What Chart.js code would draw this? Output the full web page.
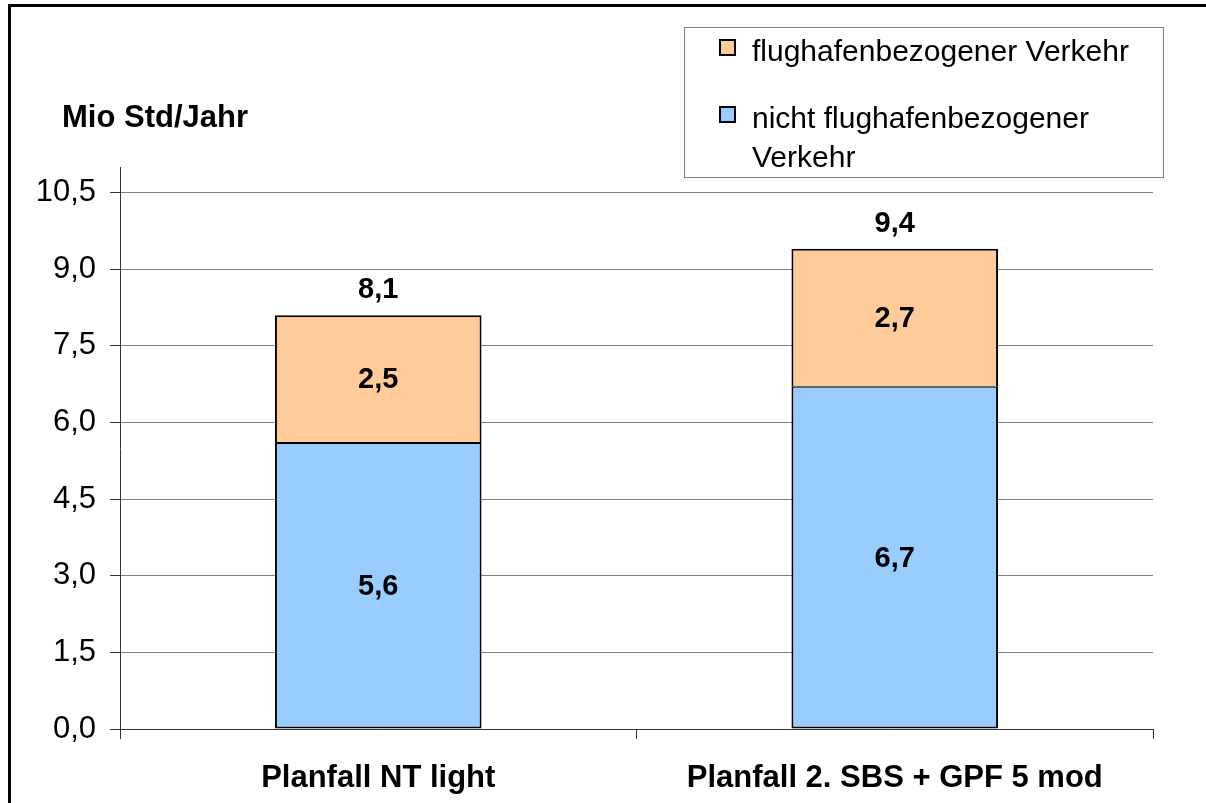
<!DOCTYPE html>
<html><head><meta charset="utf-8">
<script src="https://cdn.jsdelivr.net/npm/chart.js@4/dist/chart.umd.min.js"></script>
<style>
html,body{margin:0;padding:0;background:#fff;overflow:hidden;}
#wrap{position:relative;width:1206px;height:803px;}
#frame{position:absolute;left:8px;top:4px;width:1400px;height:1000px;border:3px solid #000;pointer-events:none;}
canvas{position:absolute;left:0;top:0;}
</style></head><body>
<div id="wrap"><canvas id="c" width="1206" height="803"></canvas><div id="frame"></div></div>
<script>
const categories = ['Planfall NT light', 'Planfall 2. SBS + GPF 5 mod'];
const nichtFlughafen = [5.6, 6.7];
const flughafen = [2.5, 2.7];
const totals = [8.1, 9.4];
const yTicks = [0, 1.5, 3.0, 4.5, 6.0, 7.5, 9.0, 10.5];
const yAxisMax = 11;
const yAxisTitle = 'Mio Std/Jahr';
const seriesNames = ['nicht flughafenbezogener Verkehr', 'flughafenbezogener Verkehr'];

const FONT = "'Liberation Sans', Arial, Helvetica, sans-serif";
const FS_LABEL = 29;
const FS_TICK = 31;
const FS_CAT = 31;
const FS_TITLE = 31;
const FS_LEG = 30;
const fmt = v => v.toFixed(1).replace('.', ',');

const overlay = {
  id: 'overlay',
  afterDatasetsDraw(chart) {
    const ctx = chart.ctx;
    ctx.save();
    ctx.fillStyle = '#000';
    ctx.textAlign = 'center';
    ctx.textBaseline = 'middle';
    ctx.font = `bold ${FS_LABEL}px ${FONT}`;
    chart.data.datasets.forEach((ds, di) => {
      const meta = chart.getDatasetMeta(di);
      meta.data.forEach((bar, i) => {
        const yMid = (bar.y + bar.base) / 2;
        ctx.fillText(fmt(ds.data[i]), bar.x, yMid + 1);
      });
    });
    const topMeta = chart.getDatasetMeta(chart.data.datasets.length - 1);
    ctx.textBaseline = 'alphabetic';
    topMeta.data.forEach((bar, i) => {
      ctx.fillText(fmt(totals[i]), bar.x, bar.y - 17);
    });
    ctx.restore();
  },
  afterDraw(chart) {
    const ctx = chart.ctx;
    ctx.save();
    ctx.fillStyle = '#000';
    ctx.font = `bold ${FS_TITLE}px ${FONT}`;
    ctx.textAlign = 'left';
    ctx.textBaseline = 'alphabetic';
    ctx.fillText(yAxisTitle, 62, 127);
    ctx.fillStyle = '#fff';
    ctx.fillRect(684, 27, 479, 150);
    ctx.strokeStyle = '#808080';
    ctx.lineWidth = 1;
    ctx.strokeRect(684.5, 27.5, 479, 150);
    ctx.font = `${FS_LEG}px ${FONT}`;
    const items = chart.data.datasets.slice().reverse();
    const swY = [40, 107];
    const baseY = [61, 128];
    const lineH = 39;
    items.forEach((ds, k) => {
      ctx.fillStyle = ds.backgroundColor;
      ctx.fillRect(720, swY[k], 15, 15);
      ctx.strokeStyle = '#000';
      ctx.lineWidth = 2;
      ctx.strokeRect(720, swY[k], 15, 15);
      ctx.fillStyle = '#000';
      const words = ds.label.split(' ');
      const lines = [];
      let cur = '';
      words.forEach(w => {
        const t = cur ? cur + ' ' + w : w;
        if (ctx.measureText(t).width > 400 && cur) { lines.push(cur); cur = w; }
        else cur = t;
      });
      if (cur) lines.push(cur);
      lines.forEach((ln, j) => ctx.fillText(ln, 752, baseY[k] + j * lineH));
    });
    ctx.restore();
  }
};

new Chart(document.getElementById('c'), {
  type: 'bar',
  data: {
    labels: categories,
    datasets: [
      {
        label: seriesNames[0],
        data: nichtFlughafen,
        backgroundColor: '#99CCFF',
        borderColor: '#000',
        borderWidth: {top: 1, left: 2, right: 2, bottom: 2},
        borderSkipped: false,
        barPercentage: 0.4,
        categoryPercentage: 1.0
      },
      {
        label: seriesNames[1],
        data: flughafen,
        backgroundColor: '#FFCC99',
        borderColor: '#000',
        borderWidth: {top: 2, left: 2, right: 2, bottom: 1},
        borderSkipped: false,
        barPercentage: 0.4,
        categoryPercentage: 1.0
      }
    ]
  },
  options: {
    responsive: false,
    animation: false,
    events: [],
    layout: {padding: {top: 167, right: 53, left: 0, bottom: 0}},
    plugins: {legend: {display: false}, tooltip: {enabled: false}, title: {display: false}},
    scales: {
      x: {
        stacked: true,
        offset: true,
        grid: {display: true, drawOnChartArea: false, offset: true, tickLength: 10, color: '#333', tickColor: '#333'},
        border: {display: true, color: '#333', width: 1},
        ticks: {color: '#000', font: {family: FONT, size: FS_CAT, weight: 'bold'}, padding: 21, maxRotation: 0},
        afterFit(s) { s.height = 74; }
      },
      y: {
        stacked: true,
        min: 0,
        max: yAxisMax,
        bounds: 'data',
        afterBuildTicks(s) { s.ticks = yTicks.map(v => ({value: v})); },
        grid: {color: '#808080', lineWidth: 1, tickLength: 10, tickColor: '#333'},
        border: {display: true, color: '#333', width: 1},
        ticks: {color: '#000', font: {family: FONT, size: FS_TICK}, padding: 14, callback: v => fmt(v)},
        afterFit(s) { s.width = 120; }
      }
    }
  },
  plugins: [overlay]
});
</script>
</body></html>
